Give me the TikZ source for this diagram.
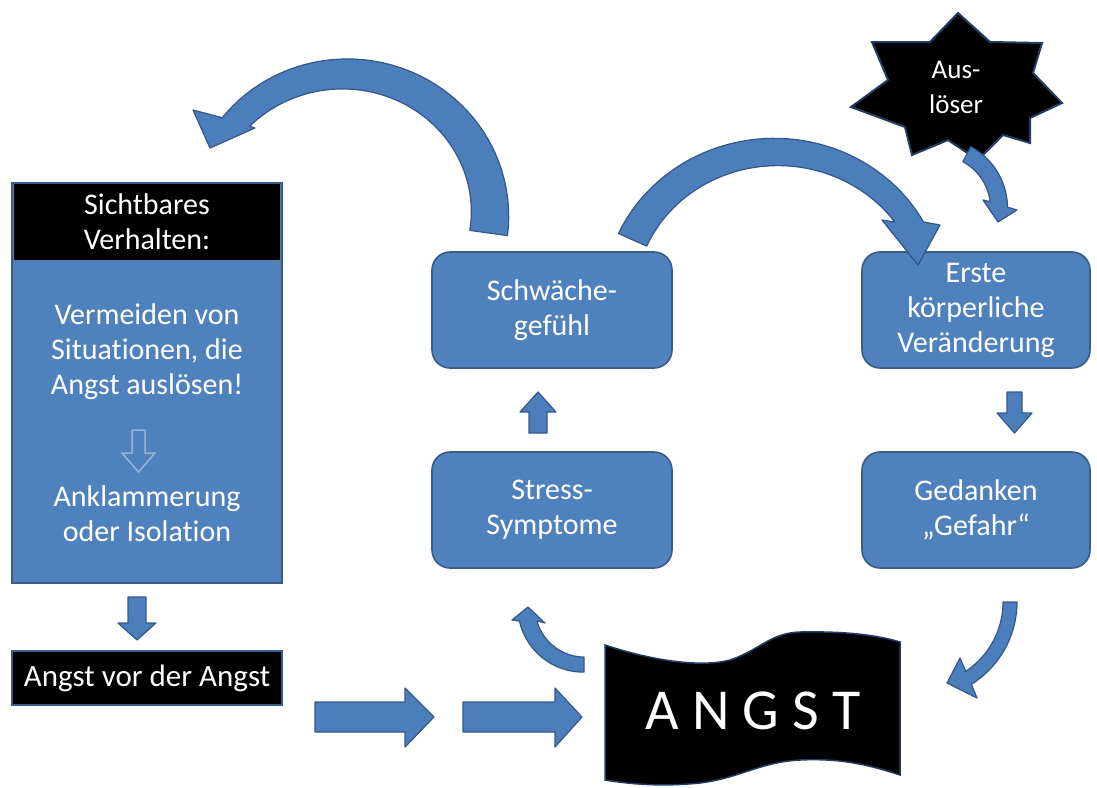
\documentclass[tikz,border=0pt]{standalone}
\usepackage{fontspec}
\setmainfont{Carlito}[Ligatures={TeX,NoCommon}]

\definecolor{boxblue}{RGB}{79,129,189}
\definecolor{boxedge}{RGB}{56,93,138}
\definecolor{arrowblue}{RGB}{76,126,188}
\definecolor{arrowedge}{RGB}{50,88,138}
\definecolor{hollowline}{RGB}{150,180,218}
\definecolor{darkedge}{RGB}{35,60,100}

\tikzset{
  txt/.style={text=white, align=center, inner sep=0pt, font=\fontsize{30}{35}\selectfont},
  bluebox/.style={draw=boxedge, fill=boxblue, line width=1.6pt, rounded corners=18pt, minimum height=116pt},
  darkbox/.style={draw=boxedge, fill=black, line width=1.6pt},
  blockarrow/.style={fill=arrowblue, draw=arrowedge, line width=1.2pt, line join=round},
}

% Bent block arrow: a band along an elliptic arc centred at (#1,#2), radii #3/#4,
% running from angle #5 to #6 on its outer edge and to #7 on its inner edge,
% half width #8 at the tail and #9 at the head; \headpath gives barbs and tip.
\newcommand\bentarrow[9]{%
  \filldraw[blockarrow]
    plot[domain=#5:#6, samples=50]
      ({#1+(#3+#8+(#9-#8)*(\x-(#5))/((#6)-(#5)))*cos(\x)},
       {#2+(#4+#8+(#9-#8)*(\x-(#5))/((#6)-(#5)))*sin(\x)})
    \headpath
    -- plot[domain=#7:#5, samples=50]
      ({#1+(#3-#8-(#9-#8)*(\x-(#5))/((#7)-(#5)))*cos(\x)},
       {#2+(#4-#8-(#9-#8)*(\x-(#5))/((#7)-(#5)))*sin(\x)})
    -- cycle;}

\begin{document}
\begin{tikzpicture}[x=1pt,y=-1pt]
\useasboundingbox (0,0) rectangle (1097,787);

% ---------- left column ----------
\node[draw=boxedge, fill=boxblue, line width=1.6pt, minimum width=270pt, minimum height=400pt] (behaviour) at (147,383) {};
\node[fill=black, txt, minimum width=266pt, minimum height=76pt] (visible) at (147,222) {Sichtbares\\Verhalten:};
\node[txt] (avoid) at (147,352) {Vermeiden von\\Situationen, die\\Angst auslösen!};
\draw[hollowline, line width=1.5pt, line join=miter]
  (132,430) -- (145,430) -- (145,453) -- (155,453) -- (138.5,472) -- (122,453) -- (132,453) -- cycle;
\node[txt] (cling) at (147,514) {Anklammerung\\oder Isolation};

\filldraw[blockarrow] (128,597) -- (146,597) -- (146,623) -- (156,623) -- (137,640) -- (118,623) -- (128,623) -- cycle;

\node[darkbox, txt, font=\fontsize{31}{36}\selectfont, minimum width=270pt, minimum height=54pt] (fearfear) at (147,678) {Angst vor der Angst};

% ---------- arrows towards the banner ----------
\filldraw[blockarrow] (315,702) -- (405,702) -- (405,688) -- (434,717) -- (405,747) -- (405,732) -- (315,732) -- cycle;
\filldraw[blockarrow] (463,702) -- (555,702) -- (555,688) -- (582,717) -- (555,747) -- (555,732) -- (463,732) -- cycle;

% ---------- banner ----------
\filldraw[fill=black, draw=darkedge, line width=1.5pt]
  (605,645) .. controls (650,660) and (700,668) .. (730,660)
            .. controls (760,650) and (770,633) .. (800,632)
            .. controls (850,631) and (880,636) .. (900,642)
  -- (900,775) .. controls (870,765) and (840,758) .. (800,760)
               .. controls (760,762) and (740,778) .. (700,783)
               .. controls (660,787) and (630,784) .. (605,780)
  -- cycle;
\node[text=white, inner sep=0pt, font=\fontsize{58}{60}\selectfont] (angst) at (753,711) {A N G S T};

% ---------- middle column ----------
\node[bluebox, txt, minimum width=240pt] (weak) at (552,310) {Schwäche-\\gefühl};
\node[bluebox, txt, minimum width=240pt] (stress) at (552,510) {Stress-\\Symptome};
\filldraw[blockarrow] (529,433) -- (547,433) -- (547,412) -- (556,412) -- (538,392) -- (520,412) -- (529,412) -- cycle;

% ---------- right column ----------
\node[bluebox, txt, minimum width=228pt] (body) at (976,310) {Erste\\körperliche\\Veränderung};
\node[bluebox, txt, minimum width=228pt] (danger) at (976,510) {Gedanken\\„Gefahr“};
\filldraw[blockarrow] (1007,392) -- (1022,392) -- (1022,413) -- (1032,413) -- (1014.5,433) -- (997,413) -- (1007,413) -- cycle;

% ---------- trigger star ----------
\filldraw[fill=black, draw=darkedge, line width=2pt, line join=miter]
  (958,13) -- (990,42) -- (1042,43) -- (1033,73) -- (1062,103) -- (1030,118)
  -- (1030,143) -- (1003,135) -- (978,160) -- (948,140) -- (912,155) -- (905,127)
  -- (851,107) -- (888,80) -- (872,42) -- (930,42) -- cycle;
\node[txt, font=\fontsize{27}{35}\selectfont] (trigger) at (956,87) {Aus-\\löser};

% ---------- bent arrows ----------
% weakness feeling back to the visible behaviour
\def\headpath{-- (193,110) -- (210,148) -- (255,128)}
\bentarrow{345}{214}{145}{140}{7.8}{-141}{-136.3}{19}{13}
% weakness feeling on to the first bodily change
\def\headpath{-- (940,225) -- (918,265) -- (882,220)}
\bentarrow{776}{300}{157}{148}{-156}{-29.2}{-35}{15.5}{12}
% trigger to the first bodily change
\def\headpath{-- (1017,210) -- (998,222) -- (983,200)}
\bentarrow{938}{208}{61}{61}{-61.8}{-0.7}{-7}{8.5}{8.5}
% fear up to the stress symptoms
\def\headpath{-- (512,620) -- (528,607) -- (545,623)}
\bentarrow{584}{607}{57.6}{57.6}{90}{167.7}{163.6}{7.5}{8.5}
% danger thoughts down to the fear
\def\headpath{-- (977,698) -- (947,683) -- (960,658)}
\bentarrow{920}{602}{90}{90}{0}{58}{56.6}{7}{7}

\end{tikzpicture}
\end{document}
